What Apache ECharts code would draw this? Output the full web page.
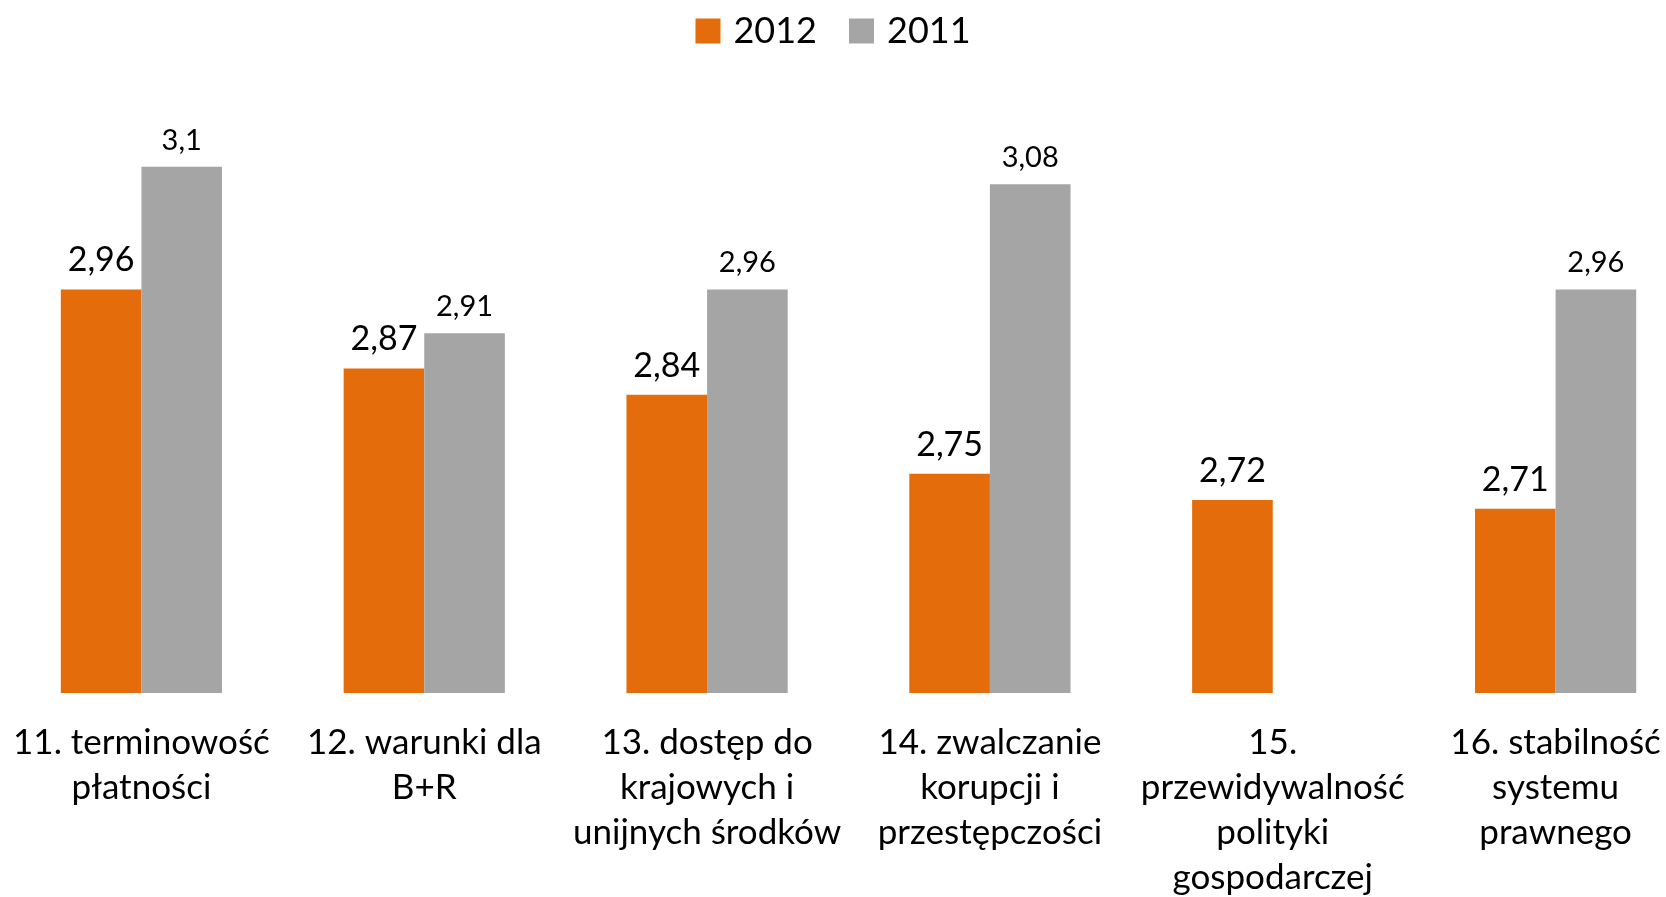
<!DOCTYPE html>
<html>
<head>
<meta charset="utf-8">
<script src="https://cdn.jsdelivr.net/npm/echarts@6/dist/echarts.min.js"></script>
<style>
  html, body { margin: 0; padding: 0; background: #fff; }
  #chart { width: 1666px; height: 897px; }
</style>
</head>
<body>
<div id="chart"></div>
<script>
// kategorie i wartości
const categories = [
  '11. terminowość\npłatności',
  '12. warunki dla\nB+R',
  '13. dostęp do\nkrajowych i\nunijnych środków',
  '14. zwalczanie\nkorupcji i\nprzestępczości',
  '15.\nprzewidywalność\npolityki\ngospodarczej',
  '16. stabilność\nsystemu\nprawnego'
]
const data2012 = [2.96, 2.87, 2.84, 2.75, 2.72, 2.71]
const data2011 = [3.1, 2.91, 2.96, 3.08, null, 2.96]

const fontFamily = 'Lato, "Open Sans", sans-serif'
const fmt = p => String(p.value).replace('.', ',')

const myChart = echarts.init(document.getElementById('chart'))
myChart.setOption({
  animation: false,
  legend: {
    top: 8,
    left: 'center',
    icon: 'rect',
    itemWidth: 25,
    itemHeight: 25,
    itemGap: 32,
    textStyle: { color: '#000', fontSize: 36, fontFamily: fontFamily, padding: [0, 0, 0, 8] }
  },
  grid: {
    left: 0,
    top: 79,
    right: -31,
    bottom: 204,
    outerBoundsMode: 'none',
    containLabel: false
  },
  xAxis: {
    type: 'category',
    data: categories,
    axisTick: { show: false },
    axisLine: { show: false },
    axisLabel: {
      interval: 0,
      color: '#000',
      fontSize: 35,
      lineHeight: 45,
      margin: 27,
      fontFamily: fontFamily
    }
  },
  yAxis: {
    type: 'value',
    min: 2.5,
    max: 3.2,
    show: false,
    splitLine: { show: false }
  },
  series: [
    {
      name: '2012',
      type: 'bar',
      data: data2012,
      barGap: '0%',
      barCategoryGap: '43%',
      itemStyle: { color: '#E46C0A' },
      label: {
        show: true,
        position: 'top',
        distance: 12,
        color: '#000',
        fontSize: 34,
        fontFamily: fontFamily,
        formatter: fmt
      }
    },
    {
      name: '2011',
      type: 'bar',
      data: data2011,
      itemStyle: { color: '#A5A5A5' },
      label: {
        show: true,
        position: 'top',
        distance: 12,
        color: '#000',
        fontSize: 29,
        fontFamily: fontFamily,
        formatter: fmt
      }
    }
  ]
})
</script>
</body>
</html>
